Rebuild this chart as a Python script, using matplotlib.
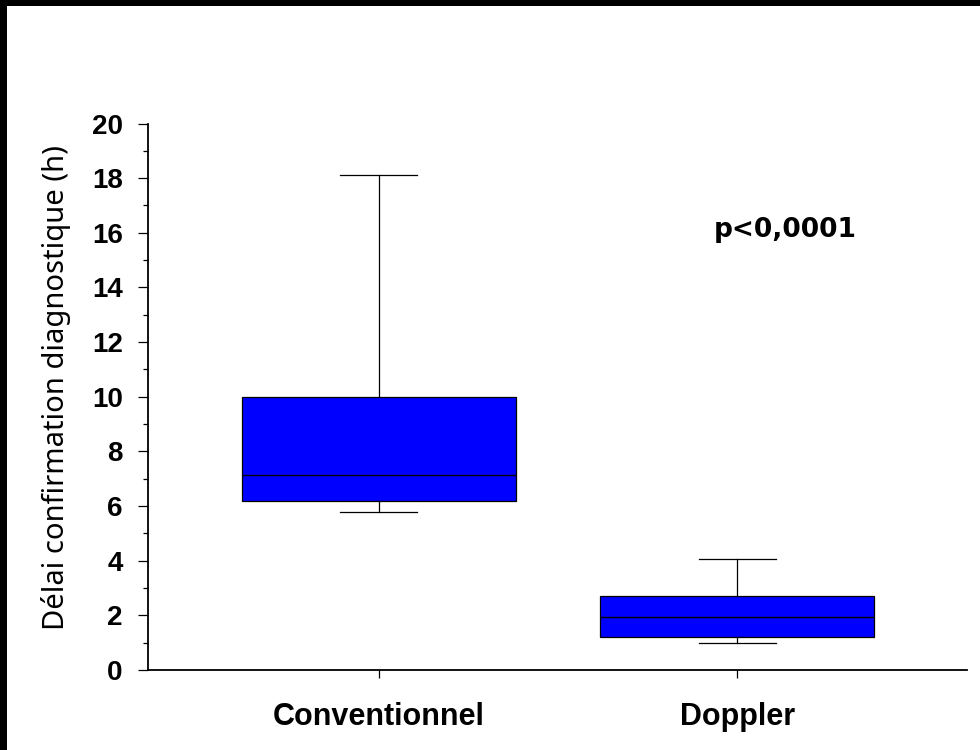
import matplotlib
matplotlib.use("Agg")
import matplotlib.pyplot as plt
from matplotlib.patches import Rectangle
from matplotlib.ticker import MultipleLocator

# Box statistics (hours)
groups = ["Conventionnel", "Doppler"]
whislo = [5.8, 1.0]
q1 = [6.2, 1.2]
med = [7.15, 1.95]
q3 = [10.0, 2.7]
whishi = [18.1, 4.05]

y_label = "Délai confirmation diagnostique (h)"
p_text = "p<0,0001"


def main():
    fig = plt.figure(figsize=(9.8, 7.5), dpi=100)
    ax = fig.add_axes([0.151, 0.1067, 0.8357, 0.7286])

    stats = [
        dict(label=g, whislo=lo, q1=a, med=m, q3=b, whishi=hi, fliers=[])
        for g, lo, a, m, b, hi in zip(groups, whislo, q1, med, q3, whishi)
    ]
    ax.bxp(
        stats,
        positions=[1, 2],
        widths=0.763,
        patch_artist=True,
        showfliers=False,
        boxprops=dict(facecolor="#0000ff", edgecolor="black", linewidth=0.9),
        medianprops=dict(color="black", linewidth=1.0),
        whiskerprops=dict(color="black", linewidth=0.9),
        capprops=dict(color="black", linewidth=0.9),
        capwidths=0.215,
    )

    ax.set_xlim(0.355, 2.642)
    ax.set_ylim(0, 20)
    ax.yaxis.set_major_locator(MultipleLocator(2))
    ax.yaxis.set_minor_locator(MultipleLocator(1))

    for side in ("top", "right"):
        ax.spines[side].set_visible(False)
    for side in ("left", "bottom"):
        ax.spines[side].set_linewidth(1.3)

    ax.tick_params(axis="y", which="major", length=7.2, width=0.9, pad=11)
    ax.tick_params(axis="y", which="minor", length=3.6, width=0.9)
    ax.tick_params(axis="x", length=5.8, width=0.9, pad=17)

    for lbl in ax.get_yticklabels():
        lbl.set_fontfamily("Liberation Sans")
        lbl.set_fontweight("bold")
        lbl.set_fontsize(20)
    ax.set_xticks([1, 2])
    ax.set_xticklabels(groups, fontfamily="Liberation Sans",
                       fontweight="bold", fontsize=22)

    fig.text(0.057, 0.483, y_label, rotation=90, ha="center", va="center",
             fontfamily="Noto Sans", fontsize=21)
    ax.text(0.801, 0.693, p_text, transform=fig.transFigure,
            ha="center", va="center", fontfamily="DejaVu Sans",
            fontweight="bold", fontsize=19)

    # black frame along the top and left edges of the picture
    fig.patches.append(Rectangle((0, 0.992), 1, 0.008, transform=fig.transFigure,
                                 facecolor="black", edgecolor="none"))
    fig.patches.append(Rectangle((0, 0), 0.007, 1, transform=fig.transFigure,
                                 facecolor="black", edgecolor="none"))

    fig.savefig("out.png", dpi=100)


if __name__ == "__main__":
    main()
